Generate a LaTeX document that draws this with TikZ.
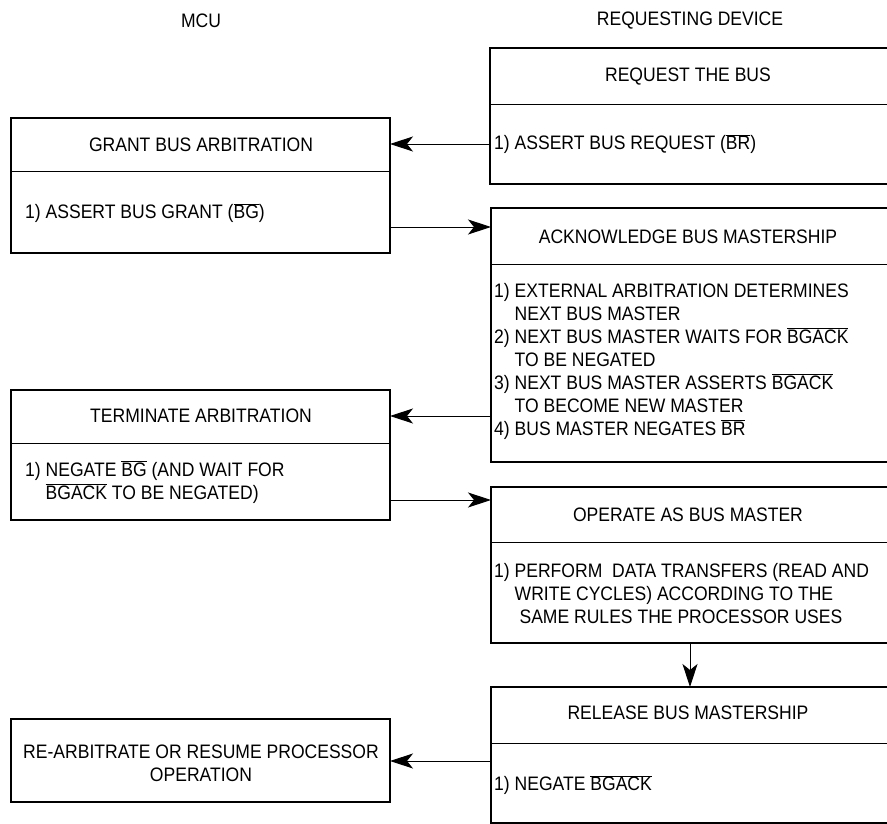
\documentclass[tikz,border=0pt]{standalone}
\usepackage{fontspec}
\setmainfont{Liberation Sans}[FakeStretch=0.9]
\usetikzlibrary{arrows.meta}
\newcommand{\ovl}[1]{\ensuremath{\overline{\mbox{#1}}}}
\begin{document}
\begin{tikzpicture}[x=1pt,y=-1pt,
  box/.style={draw, line width=1.6pt, rectangle, inner sep=0pt, outer sep=0pt, anchor=north west},
  div/.style={line width=0.8pt},
  arr/.style={line width=0.9pt, -{Stealth[length=23pt,width=15pt,inset=6pt]}},
  ttl/.style={font=\fontsize{19.5}{23}\selectfont, inner sep=0pt},
  txt/.style={font=\fontsize{19.5}{23}\selectfont, inner sep=0pt, anchor=west, align=left}]
\useasboundingbox (0,0) rectangle (887,824);
\clip (0,0) rectangle (887,824);
% headers
\node[ttl] (mcu) at (201,21) {MCU};
\node[ttl] (dev) at (690,21) {REQUESTING DEVICE};
% boxes
\node[box, minimum width=400pt, minimum height=136pt] (req) at (490,48) {};
\node[box, minimum width=379pt, minimum height=135pt] (grant) at (11,118) {};
\node[box, minimum width=400pt, minimum height=254pt] (ack) at (491,208) {};
\node[box, minimum width=379pt, minimum height=130pt] (term) at (11,390) {};
\node[box, minimum width=400pt, minimum height=156pt] (oper) at (491,487) {};
\node[box, minimum width=400pt, minimum height=136pt] (rel) at (491,687) {};
\node[box, minimum width=379pt, minimum height=83pt] (rearb) at (11,719) {};
% dividers
\draw[div] (req.west |- 0,104) -- (req.east |- 0,104);
\draw[div] (grant.west |- 0,171) -- (grant.east |- 0,171);
\draw[div] (ack.west |- 0,264) -- (ack.east |- 0,264);
\draw[div] (term.west |- 0,443) -- (term.east |- 0,443);
\draw[div] (oper.west |- 0,542) -- (oper.east |- 0,542);
\draw[div] (rel.west |- 0,743) -- (rel.east |- 0,743);
% texts
\node[ttl] (reqt) at (688,77) {REQUEST THE BUS};
\node[txt] (reqx) at (494,144) {1) ASSERT BUS REQUEST (\ovl{BR})};
\node[ttl] (grantt) at (201,145) {GRANT BUS ARBITRATION};
\node[txt] (grantx) at (25,213) {1) ASSERT BUS GRANT (\ovl{BG})};
\node[ttl] (ackt) at (688,237) {ACKNOWLEDGE BUS MASTERSHIP};
\node[txt] (ackx) at (494,361) {1) EXTERNAL ARBITRATION DETERMINES\\
\hphantom{1) }NEXT BUS MASTER\\
2) NEXT BUS MASTER WAITS FOR \ovl{BGACK}\\
\hphantom{1) }TO BE NEGATED\\
3) NEXT BUS MASTER ASSERTS \ovl{BGACK}\\
\hphantom{1) }TO BECOME NEW MASTER\\
4) BUS MASTER NEGATES \ovl{BR}};
\node[ttl] (termt) at (201,416) {TERMINATE ARBITRATION};
\node[txt] (termx) at (25,482) {1) NEGATE \ovl{BG} (AND WAIT FOR\\
\hphantom{1) }\ovl{BGACK} TO BE NEGATED)};
\node[ttl] (opert) at (688,515) {OPERATE AS BUS MASTER};
\node[txt] (operx) at (494,594) {1) PERFORM\ \ DATA TRANSFERS (READ AND\\
\hphantom{1) }WRITE CYCLES) ACCORDING TO THE\\
\hphantom{1) ~}SAME RULES THE PROCESSOR USES};
\node[ttl] (relt) at (688,713) {RELEASE BUS MASTERSHIP};
\node[txt] (relx) at (494,785) {1) NEGATE \ovl{BGACK}};
\node[ttl, align=center] (rearbt) at (201,763) {RE-ARBITRATE OR RESUME PROCESSOR\\OPERATION};
% connectors
\coordinate (c1) at (0,144);
\coordinate (c2) at (0,227);
\coordinate (c3) at (0,416);
\coordinate (c4) at (0,500);
\coordinate (c6) at (0,761);
\draw[arr] (c1 -| req.west) -- (c1 -| grant.east);
\draw[arr] (c2 -| grant.east) -- (c2 -| ack.west);
\draw[arr] (c3 -| ack.west) -- (c3 -| term.east);
\draw[arr] (c4 -| term.east) -- (c4 -| oper.west);
\draw[arr] (oper.south -| 690,0) -- (rel.north -| 690,0);
\draw[arr] (c6 -| rel.west) -- (c6 -| rearb.east);
\end{tikzpicture}
\end{document}
